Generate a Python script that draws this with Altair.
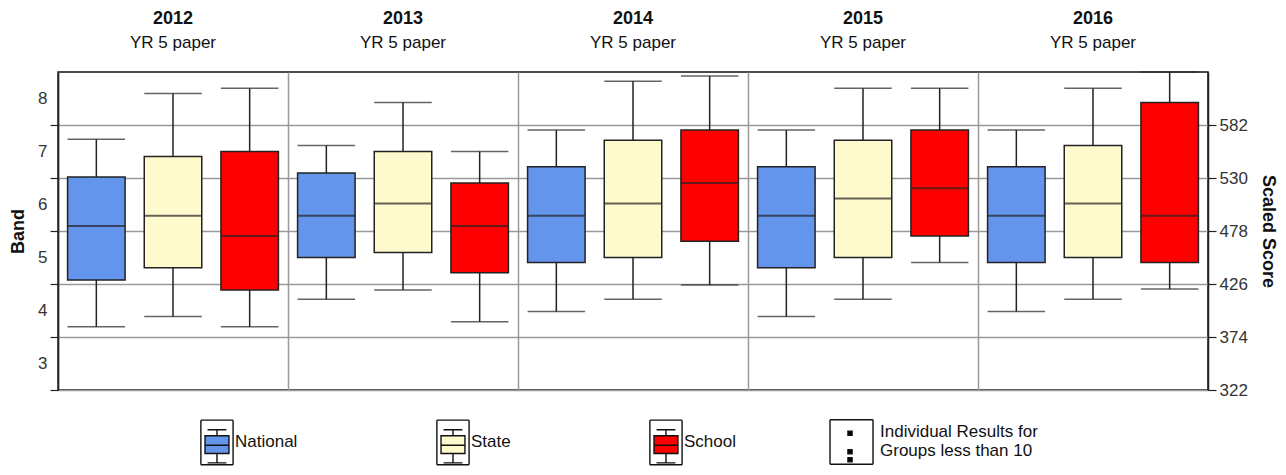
import altair as alt
import pandas as pd

years = ["2012", "2013", "2014", "2015", "2016"]
subtitle = "YR 5 paper"
groups = ["National", "State", "School"]
group_colors = ["#6495ED", "#FFFACD", "#FF0000"]
small_group_label = "Individual"
small_group_color = "#000000"

national_low = [384, 411, 399, 394, 399]
national_q1 = [430, 452, 447, 442, 447]
national_med = [483, 493, 493, 493, 493]
national_q3 = [531, 535, 541, 541, 541]
national_high = [568, 562, 577, 577, 577]

state_low = [394, 420, 411, 411, 411]
state_q1 = [442, 457, 452, 452, 452]
state_med = [493, 505, 505, 510, 505]
state_q3 = [551, 556, 567, 567, 562]
state_high = [613, 604, 625, 618, 618]

school_low = [384, 389, 425, 447, 421]
school_q1 = [420, 437, 468, 473, 447]
school_med = [473, 483, 525, 520, 493]
school_q3 = [556, 525, 577, 577, 604]
school_high = [618, 556, 630, 618, 634]

score_ticks = [322, 374, 426, 478, 530, 582]

# legend glyphs (SVG paths in the unit square)
box_path = (
    "M-0.44,-0.97L0.96,-0.97M0.96,-0.97L0.96,0.97M0.96,0.97L-0.44,0.97M-0.44,0.97L-0.44,-0.97"
    "M-0.15,-0.55L0.67,-0.55M-0.15,0.89L0.67,0.89"
    "M0.26,-0.55L0.26,-0.29M0.26,0.48L0.26,0.89"
    "M-0.26,-0.29L0.78,-0.29L0.78,0.48L-0.26,0.48Z"
    "M-0.26,0.12L0.78,0.12"
)
dots_path = (
    "M-1.13,-0.97L0.74,-0.97M0.74,-0.97L0.74,0.97M0.74,0.97L-1.13,0.97M-1.13,0.97L-1.13,-0.97"
    "M-0.35,-0.47L-0.17,-0.47L-0.17,-0.29L-0.35,-0.29Z"
    "M-0.35,0.33L-0.17,0.33L-0.17,0.51L-0.35,0.51Z"
    "M-0.35,0.68L-0.17,0.68L-0.17,0.86L-0.35,0.86Z"
)

rows = []
for g, lo, q1, md, q3, hi in [
    ("National", national_low, national_q1, national_med, national_q3, national_high),
    ("State", state_low, state_q1, state_med, state_q3, state_high),
    ("School", school_low, school_q1, school_med, school_q3, school_high),
]:
    for i, yr in enumerate(years):
        rows.append(dict(year=yr, group=g, low=lo[i], q1=q1[i], median=md[i], q3=q3[i], high=hi[i]))
df = pd.DataFrame(rows)
hdr = pd.DataFrame({"year": years, "sub": [subtitle] * len(years)})
small_df = pd.DataFrame({"kind": [small_group_label]})

FONT = "Liberation Sans"
DARK = "#222222"
GRID = "#9a9a9a"
W = 1150
BOX = 0.75 * W / 15

yscale = alt.Scale(domain=[322, 634], nice=False, zero=False)
x_enc = alt.X(
    "year:N",
    scale=alt.Scale(domain=years, paddingInner=0, paddingOuter=0),
    axis=alt.Axis(grid=True, bandPosition=0, gridColor=GRID, gridWidth=1.5,
                  labels=False, ticks=False, domain=False, title=None),
)
xo_enc = alt.XOffset("group:N", scale=alt.Scale(domain=groups, paddingInner=0.25, paddingOuter=0.125))

left_axis = alt.Axis(
    orient="left", values=score_ticks, labelExpr="(datum.value - 322) / 52 + 3",
    labelOffset=-26.5, grid=False, tickSize=8, tickColor=DARK, tickWidth=1.2,
    domainColor=DARK, domainWidth=1.5, labelPadding=3, labelFontSize=17,
    labelColor="#333333", labelFont=FONT, title="Band", titleFontSize=18,
    titleFontWeight="bold", titleFont=FONT, titleColor="#111111", titlePadding=10,
)
right_axis = alt.Axis(
    orient="right", values=score_ticks, grid=True, gridColor=GRID, gridWidth=1.5,
    tickSize=8, tickColor=DARK, tickWidth=1.2, domainColor=DARK, domainWidth=1.5,
    labelPadding=3, labelFontSize=17, labelColor="#333333", labelFont=FONT,
    title="Scaled Score", titleFontSize=18, titleFontWeight="bold", titleFont=FONT,
    titleColor="#111111", titlePadding=11,
)

base = alt.Chart(df)

whiskers = base.mark_rule(color=DARK, strokeWidth=1.5).encode(
    x=x_enc, xOffset=xo_enc,
    y=alt.Y("low:Q", scale=yscale, axis=left_axis),
    y2="high:Q",
)
cap_low = base.mark_tick(color=DARK, thickness=1.5, size=BOX).encode(
    x=x_enc, xOffset=xo_enc, y=alt.Y("low:Q", scale=yscale, axis=None),
)
cap_high = base.mark_tick(color=DARK, thickness=1.5, size=BOX).encode(
    x=x_enc, xOffset=xo_enc, y=alt.Y("high:Q", scale=yscale, axis=None),
)

color_scale = alt.Scale(domain=groups, range=group_colors)
boxes = base.mark_bar(stroke=DARK, strokeWidth=1.5).encode(
    x=x_enc, xOffset=xo_enc,
    y=alt.Y("q1:Q", scale=yscale, axis=right_axis),
    y2="q3:Q",
    color=alt.Color("group:N", scale=color_scale, legend=None),
)
medians = base.mark_tick(color=DARK, thickness=2, size=BOX).encode(
    x=x_enc, xOffset=xo_enc, y=alt.Y("median:Q", scale=yscale, axis=None),
)

legend_a = alt.Legend(
    orient="none", legendX=129, legendY=346, direction="horizontal", columns=3,
    columnPadding=125, padding=0, title=None, symbolSize=2116, symbolOpacity=1,
    symbolStrokeWidth=1.4,
    labelFont=FONT, labelFontSize=17, labelColor="#111111", labelOffset=0, labelLimit=400,
)
legend_pts = base.mark_point(filled=True, opacity=0).encode(
    x=x_enc, xOffset=xo_enc,
    y=alt.Y("median:Q", scale=yscale, axis=None),
    color=alt.Color("group:N", scale=color_scale, legend=legend_a),
    shape=alt.Shape("group:N", scale=alt.Scale(domain=groups, range=[box_path] * 3), legend=legend_a),
    stroke=alt.Stroke("group:N", scale=alt.Scale(domain=groups, range=["#111111"] * 3), legend=legend_a),
)

legend_b = alt.Legend(
    orient="none", legendX=774, legendY=346, padding=0, title=None, symbolSize=2116,
    symbolOpacity=1, symbolStrokeWidth=1.4, labelBaseline="line-bottom",
    labelFont=FONT, labelFontSize=17, labelColor="#111111", labelOffset=0, labelLimit=400,
    labelExpr="['Individual Results for', 'Groups less than 10']",
)
small_pts = alt.Chart(small_df).mark_point(filled=True, opacity=0).encode(
    color=alt.Color("kind:N", scale=alt.Scale(domain=[small_group_label], range=[small_group_color]), legend=legend_b),
    shape=alt.Shape("kind:N", scale=alt.Scale(domain=[small_group_label], range=[dots_path]), legend=legend_b),
    stroke=alt.Stroke("kind:N", scale=alt.Scale(domain=[small_group_label], range=["#111111"]), legend=legend_b),
)

hdr_base = alt.Chart(hdr)
year_txt = hdr_base.mark_text(font=FONT, fontSize=18, fontWeight="bold", color="#111111", baseline="middle").encode(
    x=x_enc, y=alt.value(-53), text="year:N",
)
sub_txt = hdr_base.mark_text(font=FONT, fontSize=17, color="#111111", baseline="middle").encode(
    x=x_enc, y=alt.value(-29), text="sub:N",
)

chart = alt.layer(
    whiskers, cap_low, cap_high, boxes, medians, legend_pts, small_pts, year_txt, sub_txt
).resolve_axis(y="independent").resolve_scale(
    color="independent", shape="independent", stroke="independent"
).resolve_legend(
    color="independent", shape="independent", stroke="independent"
).properties(
    width=W, height=318,
    autosize=alt.AutoSizeParams(type="none"),
    padding={"left": 50, "top": 64, "right": 70, "bottom": 77},
).configure(font=FONT).configure_view(stroke="#111111", strokeWidth=1.5)

chart.save("out.html", embed_options={"renderer": "svg", "actions": False})
